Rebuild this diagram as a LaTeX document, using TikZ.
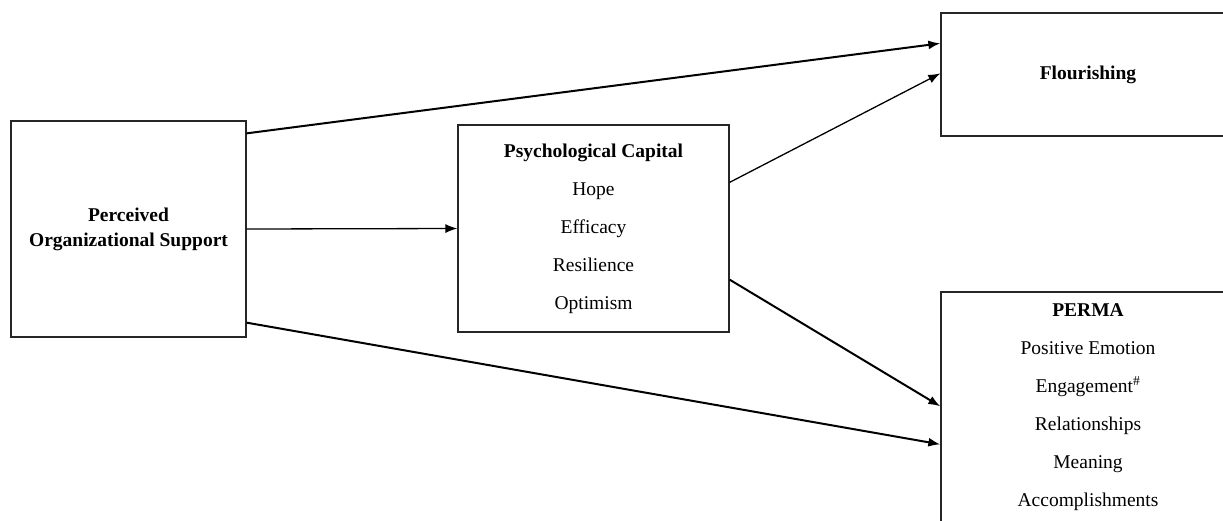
\documentclass[tikz,border=0pt]{standalone}
\usepackage{fontspec}
\setmainfont{Liberation Serif}
\usetikzlibrary{arrows.meta}
\begin{document}
\begin{tikzpicture}[x=1pt,y=-1pt,
  box/.style={draw=black!85,line width=1.3pt,align=center,inner sep=0pt,
    font=\fontsize{19.5}{38}\selectfont},
  thk/.style={line width=2pt,-{Latex[length=12pt,width=9pt]}},
  thn/.style={line width=1.3pt,-{Latex[length=12pt,width=9pt]}}]
\useasboundingbox (0,0) rectangle (1223,520);
\node[box,minimum width=235pt,minimum height=216pt,font=\fontsize{19.5}{25}\selectfont] (pos) at (128.5,229)
  {\textbf{Perceived}\\\textbf{Organizational Support}};
\node[box,minimum width=271pt,minimum height=207pt] (psy) at (593.5,228.5)
  {\textbf{Psychological Capital}\\Hope\\Efficacy\\Resilience\\Optimism};
\node[box,minimum width=294pt,minimum height=123pt] (flo) at (1088,74.5)
  {\textbf{Flourishing}};
\node[box,minimum width=294pt,minimum height=231pt] (perma) at (1088,407.5)
  {\textbf{PERMA}\\Positive Emotion\\Engagement\textsuperscript{\#}\\Relationships\\Meaning\\Accomplishments};
\draw[thk] ([yshift=-13pt]pos.north east) -- ([yshift=-31pt]flo.north west);
\draw[thn] ([yshift=-58pt]psy.north east) -- ([yshift=-61pt]flo.north west);
\draw[thn] (pos.east) -- (psy.west);
\draw[thk] ([yshift=53pt]psy.south east) -- ([yshift=-115pt]perma.north west);
\draw[thk] ([yshift=15pt]pos.south east) -- ([yshift=-153pt]perma.north west);
\end{tikzpicture}
\end{document}
